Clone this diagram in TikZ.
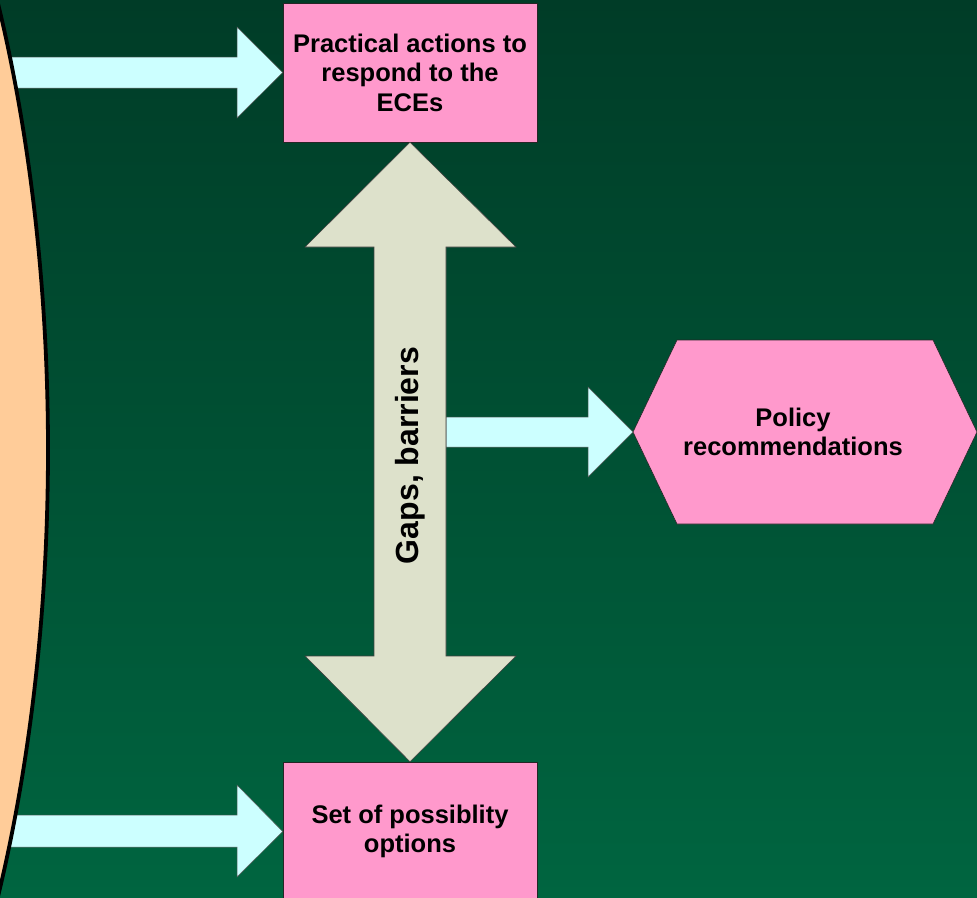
\documentclass[tikz,border=0pt]{standalone}
\usepackage{fontspec}
\setmainfont{Liberation Sans}
\usetikzlibrary{calc}
\definecolor{bgtop}{HTML}{003C27}
\definecolor{bgbot}{HTML}{006540}
\definecolor{pinkbox}{HTML}{FF99CC}
\definecolor{cyanarrow}{HTML}{CCFFFF}
\definecolor{beige}{HTML}{DDE1CB}
\definecolor{peach}{HTML}{FFCC99}
\begin{document}
\begin{tikzpicture}[x=1pt,y=-1pt,
  boxtext/.style={font=\bfseries\fontsize{25.5}{29.5}\selectfont, align=center, inner sep=0pt, text=black},
  box/.style={boxtext, draw=black!85, line width=0.6pt, fill=pinkbox, minimum width=254pt, minimum height=139pt},
  blockarrow/.style={fill=cyanarrow, draw=black!65, line width=0.5pt, line join=miter},
  bigarrow/.style={fill=beige, draw=black!75, line width=0.6pt, line join=miter},
  hexa/.style={fill=pinkbox, draw=black!85, line width=0.6pt, line join=miter}]
\useasboundingbox (0,0) rectangle (977,897);
\clip (0,0) rectangle (977,897);
\shade[top color=bgtop, bottom color=bgbot] (0,0) rectangle (977,897);

% boxes
\node[box] (actions) at (410,72.5) {Practical actions to\\respond to the\\ECEs};
\node[box] (options) at (410,831.5) {Set of possiblity\\options};

% hexagon
\coordinate (hexW) at (633,432);
\coordinate (hexE) at (977,432);
\draw[hexa] (hexW) -- (677,340) -- (933,340) -- (hexE) -- (933,524) -- (677,524) -- cycle;
\node[boxtext] (policy) at (793,432) {Policy\\recommendations};

% arrows from the left shape
\coordinate (tailA) at (0,72.5);
\coordinate (tailB) at (0,831);
\draw[blockarrow] ($(tailA)+(0,-15.5)$) -- (237,57) -- (237,27) -- (actions.west) -- (237,118) -- (237,88) -- ($(tailA)+(0,15.5)$) -- cycle;
\draw[blockarrow] ($(tailB)+(0,-16)$) -- (237,815) -- (237,785) -- (options.west) -- (237,877) -- (237,847) -- ($(tailB)+(0,16)$) -- cycle;

% arrow to policy
\coordinate (gapsE) at (446,432);
\draw[blockarrow] ($(gapsE)+(0,-15)$) -- (588,417) -- (588,387) -- (hexW) -- (588,477) -- (588,447) -- ($(gapsE)+(0,15)$) -- cycle;

% double arrow
\draw[bigarrow] (actions.south) -- (516,247) -- (446,247) -- (446,656) -- (516,656) -- (options.north)
  -- (305,656) -- (374,656) -- (374,247) -- (305,247) -- cycle;
\node[rotate=90, font=\bfseries\fontsize{32}{36}\selectfont, inner sep=0pt] (gaps) at (410,455.5) {Gaps, barriers};

% left shape
\draw[fill=peach, line width=3.8pt] (-332,450) ellipse [x radius=380, y radius=900];
\end{tikzpicture}
\end{document}
